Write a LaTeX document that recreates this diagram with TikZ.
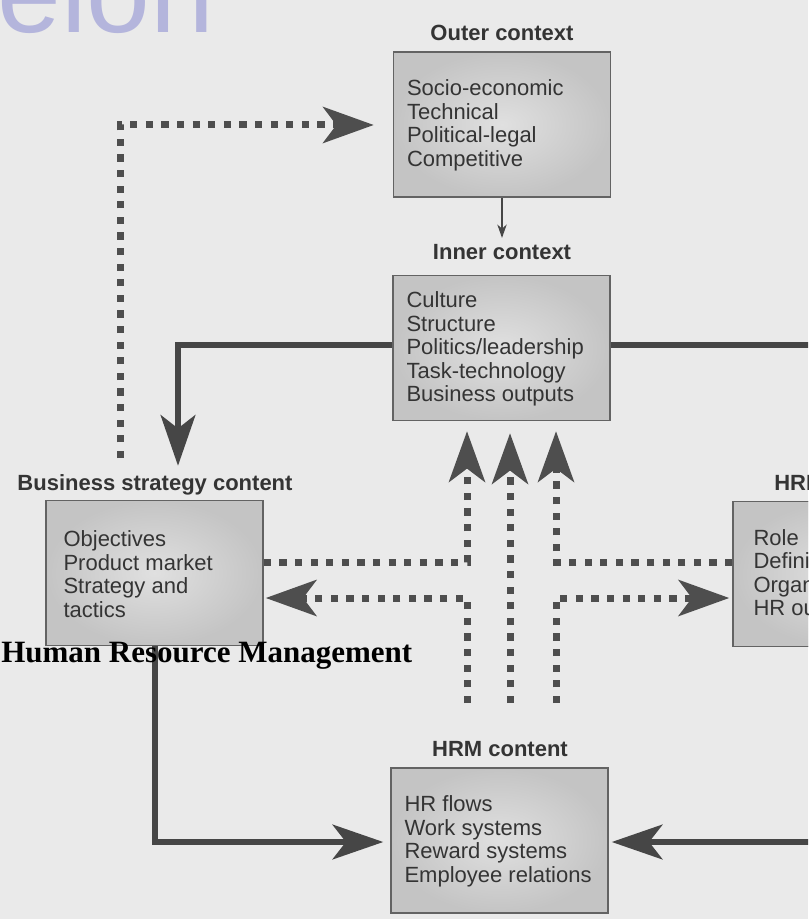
\documentclass[tikz,border=0pt]{standalone}
\usepackage{fontspec}
\setmainfont{Liberation Sans}
\newfontfamily\tmsfont{Liberation Serif}
\usetikzlibrary{arrows.meta,calc}
\definecolor{bg}{HTML}{EAEAEA}
\definecolor{ink}{HTML}{343434}
\definecolor{linec}{HTML}{464646}
\definecolor{dotc}{HTML}{4E4E4E}
\definecolor{boxline}{HTML}{636363}
\definecolor{boxin}{HTML}{E0E0E0}
\definecolor{boxout}{HTML}{C4C4C4}
\definecolor{wmark}{HTML}{B4B5DC}
\tikzset{
  box/.style={draw=boxline, line width=1.1pt, inner color=boxin, outer color=boxout,
    minimum width=162.75pt, minimum height=108.75pt, inner sep=0pt},
  boxtext/.style={font=\fontsize{16.5pt}{17.6pt}\selectfont, text=ink, align=left,
    inner sep=0pt, anchor=west},
  lab/.style={font=\bfseries\fontsize{16.5pt}{17.6pt}\selectfont, text=ink,
    inner sep=0pt, anchor=base},
  thickarrow/.style={draw=linec, line width=4.5pt,
    -{Stealth[length=38pt, width=26pt, inset=10pt]}},
  dotarrow/.style={draw=dotc, line width=5.25pt, dash pattern=on 5.4pt off 6.3pt,
    -{Stealth[length=38pt, width=27pt, inset=10pt]}},
  thinarrow/.style={draw=linec, line width=1.1pt,
    -{Stealth[length=10pt, width=7pt, inset=3pt]}}
}
\begin{document}
\begin{tikzpicture}[x=0.75pt, y=-0.75pt]
\useasboundingbox (0,0) rectangle (808,919);
\clip (0,0) rectangle (808,919);
\fill[bg] (0,0) rectangle (808,919);

% watermark fragment
\node[font=\fontsize{86pt}{86pt}\selectfont, text=wmark, anchor=base west, inner sep=0pt] (wm) at (-3,33) {elon};

% free ends of the dotted connectors
\coordinate (tb) at (120,458);
\coordinate (la) at (467,703);
\coordinate (lb) at (510,703);
\coordinate (lc) at (556,703);

% box positions (shapes only, text set separately)
\path (502,124.5) coordinate (outerc) (501.5,348) coordinate (innerc)
      (154.5,573) coordinate (bscc) (841.5,574) coordinate (hrcc)
      (499.5,840.5) coordinate (hrmc);
\node[box] (outer) at (outerc) {};
\node[box] (inner) at (innerc) {};
\node[box] (bsc) at (bscc) {};
\node[box] (hrc) at (hrcc) {};
\node[box] (hrm) at (hrmc) {};

% labels
\node[lab] (olab) at (502,41) {Outer context};
\node[lab] (ilab) at (502,260) {Inner context};
\node[lab] (blab) at (155,490) {Business strategy content};
\node[lab] (hlab) at (841.5,490) {HRM context};
\node[lab] (mlab) at (500,756) {HRM content};

% thin arrow outer -> inner
\draw[thinarrow, shorten >=5pt] (outer.south) -- (ilab.north);

% thick connectors
\draw[thickarrow] ($(inner.west)+(0,-3)$) -| ($(bsc.north)+(23.5,-34)$);
\draw[thickarrow] ($(inner.east)+(0,-3)$) -| ($(hrc.north)+(10,-34)$);
\draw[thickarrow] (bsc.south) |- ($(hrm.west)+(-7,1.5)$);
\draw[thickarrow] (hrc.south) |- ($(hrm.east)+(3,1.5)$);

% dotted connectors
\draw[dotarrow] (tb) |- ($(outer.west)+(-19,0.5)$);
\draw[dotarrow] ($(bsc.east)+(0,-11)$) -| ($(inner.south -| la)+(0,10)$);
\draw[dotarrow] (la) |- ($(bsc.east)+(2,25)$);
\draw[dotarrow] (lb) -- ($(inner.south -| lb)+(0,12)$);
\draw[dotarrow] ($(hrc.west)+(0,-12)$) -| ($(inner.south -| lc)+(0,10)$);
\draw[dotarrow] (lc) |- ($(hrc.west)+(-3,24)$);

% redraw boxes on top of line starts
\node[box] (outer2) at (outerc) {};
\node[box] (inner2) at (innerc) {};
\node[box] (bsc2) at (bscc) {};
\node[box] (hrc2) at (hrcc) {};
\node[box] (hrm2) at (hrmc) {};

% box texts
\node[boxtext] (outert) at ($(outer.west)+(14,1)$) {Socio-economic\\Technical\\Political-legal\\Competitive};
\node[boxtext] (innert) at ($(inner.west)+(14,1)$) {Culture\\Structure\\Politics/leadership\\Task-technology\\Business outputs};
\node[boxtext] (bsct) at ($(bsc.west)+(18,1)$) {Objectives\\Product market\\Strategy and\\tactics};
\node[boxtext] (hrct) at ($(hrc.west)+(21,1)$) {Role\\Definition\\Organization\\HR outputs};
\node[boxtext] (hrmt) at ($(hrm.west)+(14,1)$) {HR flows\\Work systems\\Reward systems\\Employee relations};

% overlaid title of the scanned page
\node[font=\tmsfont\bfseries\fontsize{23.25pt}{24pt}\selectfont, text=black, anchor=base west, inner sep=0pt] (title) at (1,662) {Human Resource Management};
\end{tikzpicture}
\end{document}
